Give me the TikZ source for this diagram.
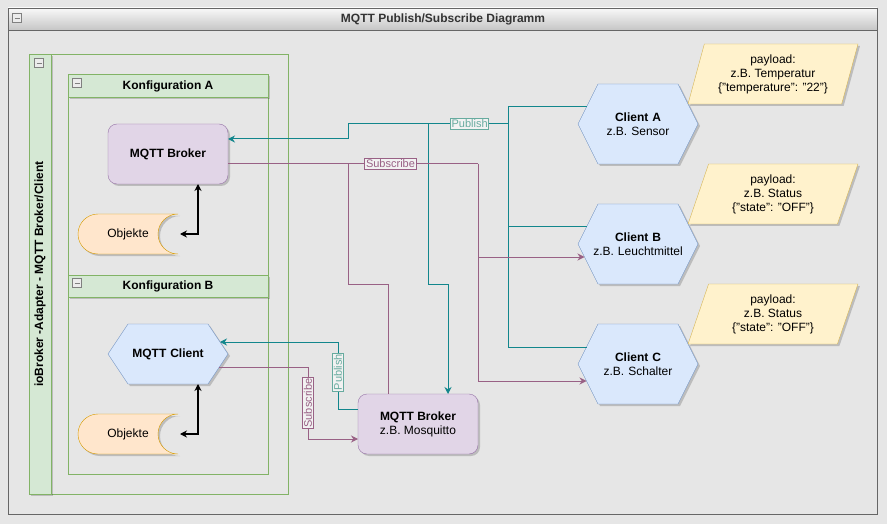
\documentclass[tikz,border=0pt]{standalone}
\usepackage{fontspec}
\setmainfont{Liberation Sans}
\usetikzlibrary{shapes.geometric,shapes.symbols,shadows,calc,arrows.meta}
\definecolor{canvas}{HTML}{E6E6E6}
\definecolor{frameline}{HTML}{666666}
\definecolor{lanefill}{HTML}{D5E8D4}
\definecolor{laneline}{HTML}{82B366}
\definecolor{brokfill}{HTML}{E1D5E7}
\definecolor{brokline}{HTML}{9673A6}
\definecolor{clifill}{HTML}{DAE8FC}
\definecolor{cliline}{HTML}{6C8EBF}
\definecolor{objfill}{HTML}{FFE6CC}
\definecolor{objline}{HTML}{D79B00}
\definecolor{payfill}{HTML}{FFF2CC}
\definecolor{payline}{HTML}{D6B656}
\definecolor{pubcol}{HTML}{12868C}
\definecolor{pubtxt}{HTML}{67AB9F}
\definecolor{subcol}{HTML}{996185}
\begin{document}
\begin{tikzpicture}[x=1pt,y=1pt,inner sep=0pt,outer sep=0pt,
font=\fontsize{12}{14}\selectfont,
>={Stealth[length=7pt,width=7pt]},
softshadow/.style={drop shadow={shadow xshift=2pt,shadow yshift=-2pt,opacity=0.18,fill=black}},
lane/.style={draw=laneline,line width=0.8pt},
lanehead/.style={draw=laneline,fill=lanefill,line width=0.8pt,softshadow},
collapse/.style={draw=gray,fill=gray!15,minimum size=9pt,line width=0.6pt,
  path picture={\draw[line width=0.9pt] ([xshift=2pt]path picture bounding box.west) -- ([xshift=-2pt]path picture bounding box.east);}},
broker/.style={draw=brokline,fill=brokfill,rounded corners=9pt,minimum width=120pt,minimum height=60pt,align=center,softshadow},
client/.style={signal,signal to=west and east,draw=cliline,fill=clifill,minimum width=120pt,minimum height=80pt,signal pointer angle=126.87,text width=76pt,align=center,softshadow},
objshape/.style={draw=objline,fill=objfill,softshadow},
payload/.style={trapezium,trapezium left angle=71.57,trapezium right angle=108.43,trapezium stretches=true,
  draw=payline,fill=payfill,minimum width=170pt,minimum height=60pt,align=center,softshadow},
pub/.style={draw=pubcol,line width=1pt},
sub/.style={draw=subcol,line width=1pt},
publbl/.style={draw=pubtxt,fill=canvas!50!white,text=pubtxt,font=\fontsize{11}{12}\selectfont,inner sep=1.2pt,line width=0.8pt},
sublbl/.style={draw=subcol,fill=canvas!50!white,text=subcol,font=\fontsize{11}{12}\selectfont,inner sep=1.2pt,line width=0.8pt},
biarr/.style={{Stealth[length=7pt,width=7pt]}-{Stealth[length=7pt,width=7pt]},line width=1.2pt}]
\fill[canvas] (0,0) rectangle (887,-524);
\useasboundingbox (0,0) rectangle (887,-524);
% outer frame
\draw[frameline,line width=0.8pt] (8,-8) rectangle (877,-514);
\draw[frameline,line width=0.8pt,top color=gray!5,bottom color=gray!45] (8,-8) rectangle (877,-30);
\draw (443,-19) node[text=black!80,font=\fontsize{12}{14}\selectfont\bfseries] (title) {MQTT Publish/Subscribe Diagramm};
\draw (17,-18) node[collapse] (colMain) {};
% ioBroker lane
\draw[lane] (29,-54) rectangle (288,-494);
\draw[lanehead] (29,-54) rectangle (51,-494);
\draw (40,-274) node[rotate=90,font=\fontsize{12}{14}\selectfont\bfseries] (iobLbl) {ioBroker -Adapter - MQTT Broker/Client};
\draw (39,-63) node[collapse] (colIob) {};
% Konfiguration A
\draw[lane] (68,-74) rectangle (268,-275);
\draw[lanehead] (68,-74) rectangle (268,-97);
\draw (168,-86) node[font=\fontsize{12}{14}\selectfont\bfseries] (konfA) {Konfiguration A};
\draw (77,-83) node[collapse] (colA) {};
% Konfiguration B
\draw[lane] (68,-275) rectangle (268,-474);
\draw[lanehead] (68,-275) rectangle (268,-297);
\draw (168,-286) node[font=\fontsize{12}{14}\selectfont\bfseries] (konfB) {Konfiguration B};
\draw (77,-283) node[collapse] (colB) {};
% nodes
\draw (168,-154) node[broker] (brokerA) {\bfseries MQTT Broker};
\draw[objshape] (98,-214) -- (178,-214) arc[start angle=90,end angle=270,radius=20] -- (98,-254) arc[start angle=270,end angle=90,radius=20] -- cycle;
\draw (128,-234) node[minimum width=100pt,minimum height=40pt] (objA) {Objekte};
\draw (168,-354) node[client,minimum height=60pt,signal pointer angle=112.62] (mqcl) {\bfseries MQTT Client};
\draw[objshape] (98,-414) -- (178,-414) arc[start angle=90,end angle=270,radius=20] -- (98,-454) arc[start angle=270,end angle=90,radius=20] -- cycle;
\draw (128,-434) node[minimum width=100pt,minimum height=40pt] (objB) {Objekte};
\draw (418,-424) node[broker] (mosq) {{\bfseries MQTT Broker}\\z.B. Mosquitto};
\draw (638,-124) node[client] (cliA) {{\bfseries Client A}\\z.B. Sensor};
\draw (638,-244) node[client] (cliB) {{\bfseries Client B}\\\makebox[76pt]{z.B. Leuchtmittel}};
\draw (638,-364) node[client] (cliC) {{\bfseries Client C}\\z.B. Schalter};
\draw (773,-74) node[payload] (payA) {payload:\\z.B. Temperatur\\\{"temperature": "22"\}};
\draw (773,-194) node[payload] (payB) {payload:\\z.B. Status\\\{"state": "OFF"\}};
\draw (773,-314) node[payload] (payC) {payload:\\z.B. Status\\\{"state": "OFF"\}};
\coordinate (pubbus) at (508,-124);
\coordinate (pubtap) at (428,-124);
\coordinate (subbus) at (478,-164);
\coordinate (subtap) at (348,-164);
% publish
\draw[pub] ($(cliA.west)+(8.5,17)$) -| (pubbus);
\draw[pub] ($(cliB.west)+(8.5,17)$) -| (pubbus);
\draw[pub] ($(cliC.west)+(8.5,17)$) -| (pubbus);
\draw[pub,->] (pubtap) -- (428,-284) -| ($(mosq.north)+(30,0)$);
\draw[pub,->] (pubbus) -- node[publbl,pos=0.24] (pubA) {Publish} (348,-124) |- ($(brokerA.east)+(0,15)$);
\draw[pub,->] ($(mosq.west)+(0,15)$) -- (338,-409) -- node[publbl,rotate=90,pos=0.55] (pubB) {Publish} (338,-342) -- ($(mqcl.east)+(-8,12)$);
% subscribe
\draw[sub] ($(brokerA.east)+(0,-10)$) -- node[sublbl,pos=0.65] (subA) {Subscribe} (subbus);
\draw[sub,->] (subbus) |- ($(cliB.west)+(6.5,-13)$);
\draw[sub,->] (subbus) |- ($(cliC.west)+(8.5,-17)$);
\draw[sub] (subtap) -- (348,-284) -| ($(mosq.north)+(-30,0)$);
\draw[sub,->] ($(mqcl.east)+(-8.7,-13)$) -- (308,-367) -- node[sublbl,rotate=90,pos=0.5] (subB) {Subscribe} (308,-439) -- ($(mosq.west)+(0,-15)$);
% objects
\draw[biarr] ($(objA.east)+(2,0)$) -| ($(brokerA.south)+(30,0)$);
\draw[biarr] ($(objB.east)+(2,0)$) -| ($(mqcl.south)+(30,0)$);
\end{tikzpicture}
\end{document}
